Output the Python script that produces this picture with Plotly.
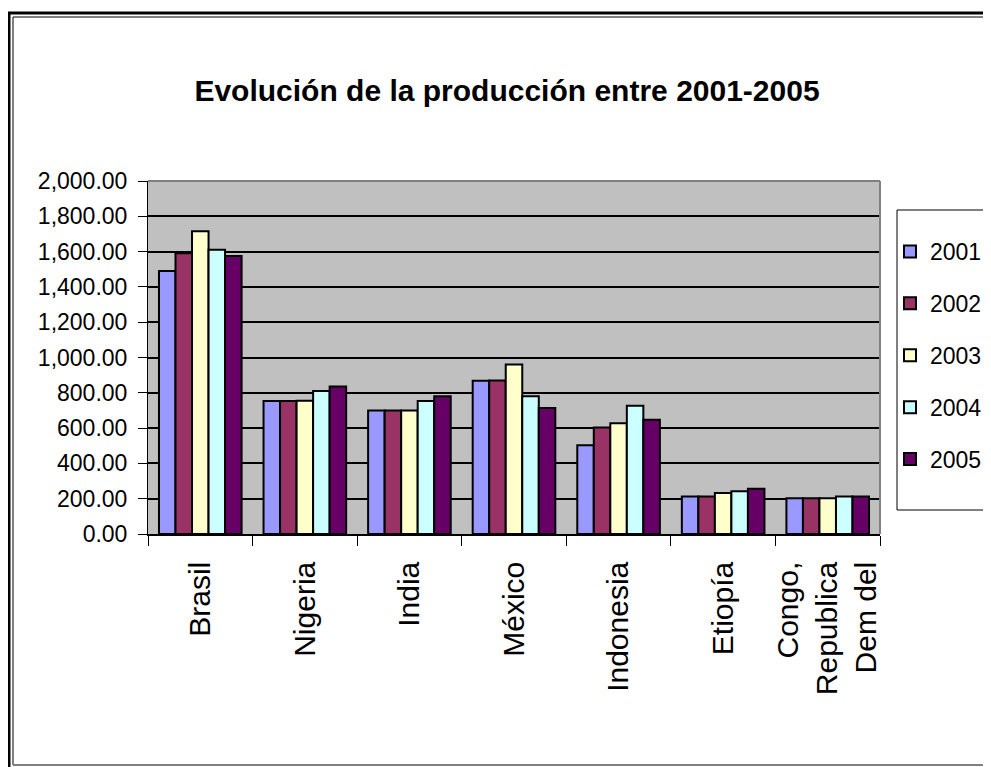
import plotly.graph_objects as go

categories = ["Brasil", "Nigeria", "India", "México", "Indonesia", "Etiopía", "Congo,<br>Republica<br>Dem del"]
years = ["2001", "2002", "2003", "2004", "2005"]
v2001 = [1490, 753, 700, 868, 503, 213, 202]
v2002 = [1590, 753, 700, 870, 604, 213, 202]
v2003 = [1715, 755, 700, 961, 628, 233, 203]
v2004 = [1610, 810, 753, 781, 727, 242, 213]
v2005 = [1575, 835, 780, 714, 647, 257, 213]
series = [v2001, v2002, v2003, v2004, v2005]
colors = ["#9999FF", "#993366", "#FFFFCC", "#CCFFFF", "#660066"]

# page body has an 8px margin; work in viewport pixels and convert
OFF = 8
VW, VH = 991, 767
W, H = VW - OFF, VH - OFF
L, R, T, B = 148, 880, 181, 534  # plot area in viewport pixels

def px(x):
    return (x - L) / (R - L)

def py(y):
    return (B - y) / (B - T)

fig = go.Figure()
for i, (yr, vals) in enumerate(zip(years, series)):
    fig.add_trace(go.Bar(
        x=categories, y=vals, name=yr, legendgroup=yr,
        marker=dict(color=colors[i], line=dict(color="black", width=2)),
    ))

sans = "Liberation Sans, Arial, sans-serif"

fig.update_layout(
    width=W, height=H,
    margin=dict(l=L - OFF, r=VW - R, t=T - OFF, b=VH - B, autoexpand=False),
    paper_bgcolor="white",
    plot_bgcolor="#C0C0C0",
    barmode="group",
    bargap=0.21,
    bargroupgap=0,
    title=dict(text="<b>Evolución de la producción entre 2001-2005</b>",
               x=(507 - OFF) / W, xref="container", xanchor="center",
               y=1 - (90 - OFF) / H, yref="container", yanchor="middle",
               font=dict(family=sans, size=30, color="black")),
    legend=dict(x=px(890), y=py(230), xanchor="left", yanchor="top",
                bgcolor="rgba(0,0,0,0)", borderwidth=0,
                font=dict(family=sans, size=23, color="black"),
                tracegroupgap=19, itemwidth=30),
    showlegend=True,
    font=dict(family=sans, color="black"),
)

fig.update_yaxes(range=[0, 2000], dtick=200, tickformat=",.2f",
                 showgrid=True, gridcolor="black", gridwidth=1.5,
                 ticks="outside", ticklen=9, tickcolor="black", tickwidth=1,
                 showline=True, linecolor="black", linewidth=1,
                 tickfont=dict(family=sans, size=23, color="black"),
                 ticklabelstandoff=6,
                 zeroline=False)
fig.update_xaxes(tickangle=-90, tickson="boundaries", ticks="outside",
                 ticklen=10, tickcolor="black", tickwidth=1,
                 showline=True, linecolor="black", linewidth=1.5,
                 ticklabelstandoff=14,
                 tickfont=dict(family=sans, size=30, color="black"))

shapes = [
    # legend box
    dict(type="rect", xref="paper", yref="paper", x0=px(897), x1=px(995), y0=py(510), y1=py(210),
         fillcolor="white", line=dict(color="black", width=1), layer="below"),
    # plot area border (gray top/right)
    dict(type="line", xref="paper", yref="paper", x0=0, x1=1, y0=1, y1=1,
         line=dict(color="#808080", width=2)),
    dict(type="line", xref="paper", yref="paper", x0=1, x1=1, y0=0, y1=1,
         line=dict(color="#808080", width=2)),
    # outer page frame
    dict(type="line", xref="paper", yref="paper", x0=px(9), x1=px(9), y0=py(13), y1=py(767),
         line=dict(color="black", width=3)),
    dict(type="line", xref="paper", yref="paper", x0=px(13), x1=px(13), y0=py(17), y1=py(765),
         line=dict(color="black", width=1)),
    dict(type="line", xref="paper", yref="paper", x0=px(8), x1=px(991), y0=py(13), y1=py(13),
         line=dict(color="black", width=3)),
    dict(type="line", xref="paper", yref="paper", x0=px(13), x1=px(991), y0=py(17), y1=py(17),
         line=dict(color="black", width=1)),
    dict(type="line", xref="paper", yref="paper", x0=px(13), x1=px(991), y0=py(765), y1=py(765),
         line=dict(color="#808080", width=2)),
]
fig.update_layout(shapes=shapes)

fig.write_html("out.html")
